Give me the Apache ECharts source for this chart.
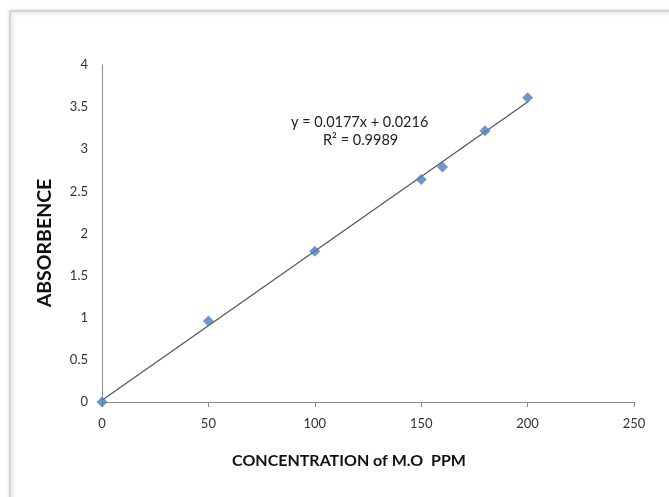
<!DOCTYPE html>
<html><head><meta charset="utf-8">
<script src="https://cdn.jsdelivr.net/npm/echarts@6/dist/echarts.min.js"></script>
<style>html,body{margin:0;padding:0;background:#fff}#c{width:669px;height:497px}</style>
</head><body><div id="c"></div>
<script>
var concentration = [0, 50, 100, 150, 160, 180, 200];
var absorbance = [0, 0.96, 1.79, 2.64, 2.79, 3.22, 3.61];
var trendX = [0, 200];
var trendY = [0.0216, 3.5616];
var equationText = 'y = 0.0177x + 0.0216';
var r2Text = 'R² = 0.9989';
var xTitle = 'CONCENTRATION of M.O  PPM';
var yTitle = 'ABSORBENCE';

var chart = echarts.init(document.getElementById('c'));
var font = 'Lato, "Open Sans", sans-serif';
chart.setOption({
  animation: false,
  backgroundColor: '#fff',
  grid: {left: 102, right: 35, top: 65, bottom: 95},
  graphic: [
    {type: 'rect', shape: {x: 10, y: 11, width: 700, height: 520},
     style: {fill: '#fff', stroke: '#d0d0d0', lineWidth: 1.5, shadowBlur: 4, shadowColor: 'rgba(0,0,0,0.25)', shadowOffsetX: 1, shadowOffsetY: 1}, z: -10},
    {type: 'text', x: 291, y: 115, style: {text: equationText, font: '14.5px ' + font, fill: '#222'}},
    {type: 'text', x: 323, y: 133, style: {text: r2Text, font: '14.5px ' + font, fill: '#222'}},
    {type: 'text', x: 349, y: 461, style: {text: xTitle, font: 'bold 16px ' + font, fill: '#111', align: 'center', verticalAlign: 'middle'}},
    {type: 'text', x: 45, y: 243, rotation: Math.PI / 2, style: {text: yTitle, font: 'bold 19.5px ' + font, fill: '#111', align: 'center', verticalAlign: 'middle'}}
  ],
  xAxis: {
    type: 'value', min: 0, max: 250, interval: 50,
    axisLine: {lineStyle: {color: '#8c8c8c', width: 1}},
    axisTick: {show: true, length: 5, inside: false, lineStyle: {color: '#8c8c8c'}},
    axisLabel: {fontFamily: font, fontSize: 13, color: '#333', margin: 15},
    splitLine: {show: false}
  },
  yAxis: {
    type: 'value', min: 0, max: 4, interval: 0.5,
    axisLine: {show: true, lineStyle: {color: '#8c8c8c', width: 1}},
    axisTick: {show: false},
    axisLabel: {fontFamily: font, fontSize: 13, color: '#333', margin: 14},
    splitLine: {show: false}
  },
  series: [
    {type: 'line', data: trendX.map(function(x, i){return [x, trendY[i]];}),
     symbol: 'none', lineStyle: {color: '#555', width: 1.2}, z: 2},
    {type: 'scatter', data: concentration.map(function(x, i){return [x, absorbance[i]];}),
     symbol: 'diamond', symbolSize: 11, itemStyle: {color: '#4a7ebb'}, z: 3}
  ]
});
</script></body></html>
